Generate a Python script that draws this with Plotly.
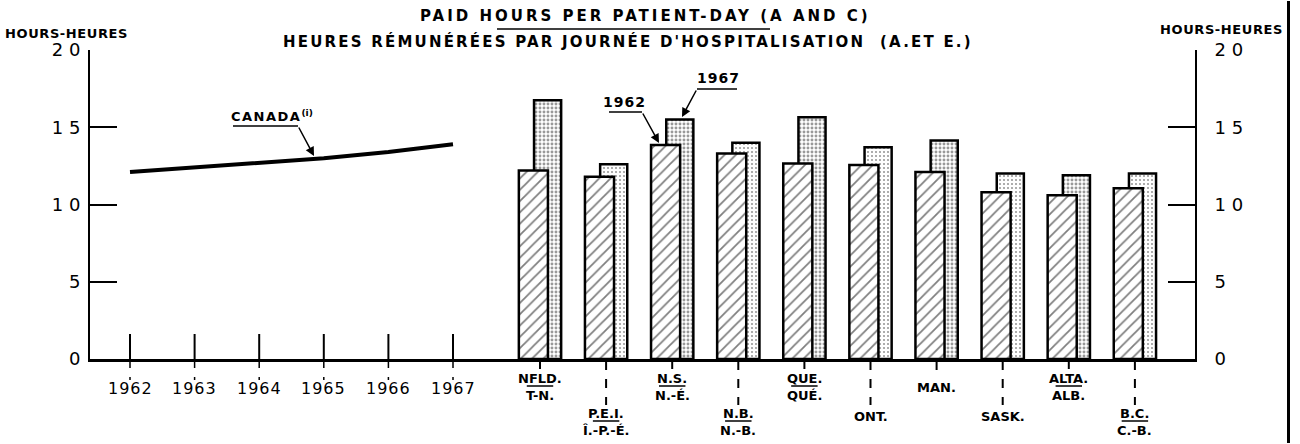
import plotly.graph_objects as go

# ---------------- data ----------------
years = [1962, 1963, 1964, 1965, 1966, 1967]
canada = [12.1, 12.4, 12.7, 13.0, 13.4, 13.9]

prov_en = ["NFLD.", "P.E.I.", "N.S.", "N.B.", "QUE.", "ONT.", "MAN.", "SASK.", "ALTA.", "B.C."]
prov_fr = ["T-N.", "Î.-P.-É.", "N.-É.", "N.-B.", "QUÉ.", "", "", "", "ALB.", "C.-B."]
v1962 = [12.2, 11.8, 13.85, 13.3, 12.65, 12.55, 12.1, 10.8, 10.6, 11.05]
v1967 = [16.75, 12.6, 15.5, 14.0, 15.65, 13.7, 14.15, 12.0, 11.9, 12.0]

y_tickvals = [0, 5, 10, 15, 20]
y_ticktext = ["0", "5", "1 0", "1 5", "2 0"]

title_en = "PAID HOURS PER PATIENT-DAY (A AND C)"
title_fr = "HEURES RÉMUNÉRÉES PAR JOURNÉE D'HOSPITALISATION  (A.ET E.)"
axis_title = "HOURS-HEURES"

# ---------------- layout helpers ----------------
W, H = 1300, 444
L, R, T, B = 90, 1195, 50, 359          # plot area in pixels
def px(p):
    return (p - L) / (R - L)
def py(p):
    return (B - p) / (B - T)

FONT = "DejaVu Sans"
split = px(490)
stipple_solidity = [0.42 if i % 2 == 0 else 0.22 for i in range(len(prov_en))]
label_level = [0 if i % 2 == 0 else 1 for i in range(len(prov_en))]

fig = go.Figure()

# Canada line
fig.add_trace(go.Scatter(x=years, y=canada, mode="lines",
                         line=dict(color="black", width=4),
                         xaxis="x", yaxis="y", showlegend=False, hoverinfo="skip"))

pos = list(range(len(prov_en)))
# 1967 stippled bars (behind)
fig.add_trace(go.Bar(x=pos, y=v1967, xaxis="x2", yaxis="y",
                     offset=-0.09, width=0.41,
                     marker=dict(color="white", line=dict(color="black", width=2.5),
                                 pattern=dict(shape=".", fgcolor="#333333", bgcolor="white",
                                              size=4, solidity=stipple_solidity)),
                     showlegend=False, hoverinfo="skip"))
# 1962 hatched bars (front)
fig.add_trace(go.Bar(x=pos, y=v1962, xaxis="x2", yaxis="y",
                     offset=-0.32, width=0.44,
                     marker=dict(color="white", line=dict(color="black", width=2.5),
                                 pattern=dict(shape="/", fgcolor="black", bgcolor="white",
                                              size=8, solidity=0.22)),
                     showlegend=False, hoverinfo="skip"))
# invisible trace for the right axis
fig.add_trace(go.Scatter(x=[0], y=[0], xaxis="x2", yaxis="y2", mode="markers",
                         marker=dict(opacity=0), showlegend=False, hoverinfo="skip"))

yax = dict(range=[0, 20], tickvals=y_tickvals, ticktext=y_ticktext,
           ticks="inside", ticklen=27, tickwidth=2, tickcolor="black",
           showline=True, linewidth=2, linecolor="black",
           showgrid=False, zeroline=False,
           tickfont=dict(family=FONT, size=18, color="black"))

fig.update_layout(
    width=W, height=H,
    margin=dict(l=L, r=W - R, t=T, b=H - B),
    paper_bgcolor="white", plot_bgcolor="white",
    barmode="overlay",
    xaxis=dict(domain=[0, split], range=[1962 - 40 / 64.6, 1967 + 37 / 64.6],
               anchor="y", showline=True, linewidth=3, linecolor="black",
               showticklabels=False, ticks="", showgrid=False, zeroline=False),
    xaxis2=dict(domain=[split, 1], range=[(490 - 540) / 66.1, (1195 - 540) / 66.1],
                anchor="y", showline=True, linewidth=3, linecolor="black",
                showticklabels=False, ticks="", showgrid=False, zeroline=False),
    yaxis=dict(**yax, ticklabelstandoff=4),
    yaxis2=dict(**yax, overlaying="y", side="right", anchor="x2", ticklabelstandoff=14),
)

shapes = []
ann = []

# year ticks + labels
for yr in years:
    shapes.append(dict(type="line", xref="x", yref="paper", x0=yr, x1=yr,
                       y0=0, y1=py(334), line=dict(color="black", width=2)))
    shapes.append(dict(type="line", xref="x", yref="paper", x0=yr, x1=yr,
                       y0=0, y1=py(380), line=dict(color="black", width=1.5, dash="dash")))
    ann.append(dict(x=yr, y=py(388), xref="x", yref="paper",
                    text='<span style="letter-spacing:1px">' + str(yr) + '</span>',
                    showarrow=False, font=dict(family=FONT, size=16, color="black"),
                    xanchor="center", yanchor="middle"))

# province ticks, labels, separators
for j, (en, fr) in enumerate(zip(prov_en, prov_fr)):
    lvl = label_level[j]
    if lvl == 0:
        if fr:
            l1, l2, sep, tick_end = 378, 395, 386, 369
        else:
            l1, l2, sep, tick_end = 387, None, None, 379
    else:
        if fr:
            l1, l2, sep, tick_end = 413, 430, 421, 405
        else:
            l1, l2, sep, tick_end = 416, None, None, 405
    shapes.append(dict(type="line", xref="x2", yref="paper", x0=j, x1=j,
                       y0=py(361), y1=py(tick_end),
                       line=dict(color="black", width=2, dash="dash")))
    ann.append(dict(x=j, y=py(l1), xref="x2", yref="paper", text="<b>" + en + "</b>",
                    showarrow=False, font=dict(family=FONT, size=13, color="black"),
                    xanchor="center", yanchor="middle"))
    if fr:
        ann.append(dict(x=j, y=py(l2), xref="x2", yref="paper", text="<b>" + fr + "</b>",
                        showarrow=False, font=dict(family=FONT, size=13, color="black"),
                        xanchor="center", yanchor="middle"))
        shapes.append(dict(type="line", xref="x2", yref="paper", x0=j - 0.2, x1=j + 0.2,
                           y0=py(sep), y1=py(sep), line=dict(color="black", width=1.5)))

# titles
ann.append(dict(x=px(645), y=py(16), xref="paper", yref="paper",
                text='<span style="letter-spacing:3px"><b>' + title_en + "</b></span>",
                showarrow=False, font=dict(family=FONT, size=15, color="black"),
                xanchor="center", yanchor="middle"))
ann.append(dict(x=px(628), y=py(41), xref="paper", yref="paper",
                text='<span style="letter-spacing:2.2px"><b>' + title_fr + "</b></span>",
                showarrow=False, font=dict(family=FONT, size=15, color="black"),
                xanchor="center", yanchor="middle"))
shapes.append(dict(type="line", xref="paper", yref="paper", x0=px(497), x1=px(770),
                   y0=py(29), y1=py(29), line=dict(color="black", width=1.5)))

# axis titles
for xc, yc in [(66, 33), (1221, 29)]:
    ann.append(dict(x=px(xc), y=py(yc), xref="paper", yref="paper",
                    text='<span style="letter-spacing:0.6px"><b>' + axis_title + "</b></span>",
                    showarrow=False, font=dict(family=FONT, size=13, color="black"),
                    xanchor="center", yanchor="middle"))

# CANADA label with leader
ann.append(dict(x=px(272), y=py(116), xref="paper", yref="paper",
                text='<b><span style="letter-spacing:1.5px">CANADA</span><sup>(i)</sup></b>',
                showarrow=False, font=dict(family=FONT, size=13, color="black"),
                xanchor="center", yanchor="middle"))
shapes.append(dict(type="line", xref="paper", yref="paper", x0=px(233), x1=px(298),
                   y0=py(126), y1=py(126), line=dict(color="black", width=1.5)))
ann.append(dict(x=px(314), y=py(156), xref="paper", yref="paper", text="",
                showarrow=True, ax=298 - 314, ay=126 - 156, arrowhead=2, arrowsize=1.2,
                arrowwidth=1.5, arrowcolor="black"))

# 1962 / 1967 bar labels
ann.append(dict(x=px(624), y=py(102), xref="paper", yref="paper",
                text='<span style="letter-spacing:1px"><b>1962</b></span>',
                showarrow=False, font=dict(family=FONT, size=14, color="black"),
                xanchor="center", yanchor="middle"))
shapes.append(dict(type="line", xref="paper", yref="paper", x0=px(609), x1=px(642),
                   y0=py(112), y1=py(112), line=dict(color="black", width=1.5)))
ann.append(dict(x=px(659), y=py(143), xref="paper", yref="paper", text="",
                showarrow=True, ax=642 - 659, ay=112 - 143, arrowhead=2, arrowsize=1.2,
                arrowwidth=1.5, arrowcolor="black"))

ann.append(dict(x=px(718), y=py(78), xref="paper", yref="paper",
                text='<span style="letter-spacing:1px"><b>1967</b></span>',
                showarrow=False, font=dict(family=FONT, size=14, color="black"),
                xanchor="center", yanchor="middle"))
shapes.append(dict(type="line", xref="paper", yref="paper", x0=px(697), x1=px(737),
                   y0=py(89), y1=py(89), line=dict(color="black", width=1.5)))
ann.append(dict(x=px(682), y=py(117), xref="paper", yref="paper", text="",
                showarrow=True, ax=697 - 682, ay=89 - 117, arrowhead=2, arrowsize=1.2,
                arrowwidth=1.5, arrowcolor="black"))

# right frame line
shapes.append(dict(type="rect", xref="paper", yref="paper",
                   x0=px(1287), x1=px(1290), y0=py(1), y1=py(443),
                   fillcolor="black", line=dict(width=0), layer="above"))

fig.update_layout(shapes=shapes, annotations=ann)
fig.write_html("out.html", config={"displayModeBar": False},
               post_script="document.body.style.margin='0';document.body.style.overflow='hidden';")
